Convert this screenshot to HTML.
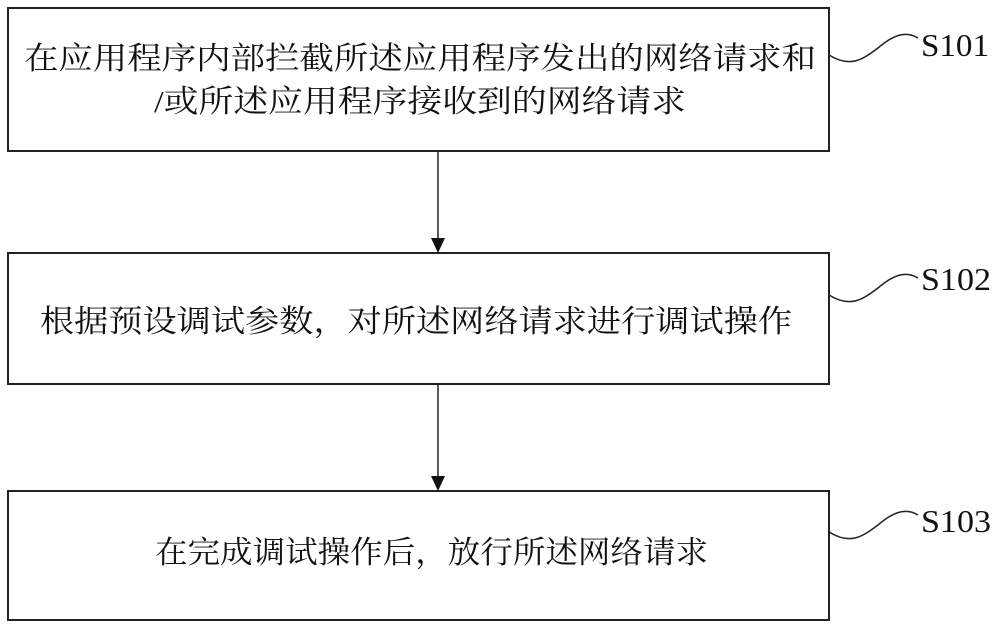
<!DOCTYPE html>
<html><head><style>
body{margin:0;background:#fff;}
svg text{font-family:"Liberation Serif","Noto Serif CJK SC","Noto Sans CJK SC",serif;fill:#111;}
</style></head><body>
<svg width="1000" height="629" viewBox="0 0 1000 629" xmlns="http://www.w3.org/2000/svg">
<g fill="none" stroke="#222" stroke-width="2">
<rect x="8" y="8" width="821" height="143"/>
<rect x="8" y="253" width="821" height="131"/>
<rect x="8" y="491" width="821" height="129"/>
</g>
<g stroke="#222" stroke-width="1.5" fill="none">
<line x1="438" y1="151" x2="438" y2="240"/>
<line x1="438" y1="384" x2="438" y2="478"/>
<path d="M829,55 C850,68 862,60 878,48 C892,36 905,30 918,38"/>
<path d="M829,295 C850,308 862,300 878,288 C892,276 905,270 918,278"/>
<path d="M829,532 C850,545 862,537 878,525 C892,513 905,507 918,515"/>
</g>
<g fill="#111">
<polygon points="431,238 445,238 438,253"/>
<polygon points="431,476 445,476 438,491"/>
</g>
<g font-size="31">
<text x="24" y="69" textLength="792" lengthAdjust="spacingAndGlyphs">在应用程序内部拦截所述应用程序发出的网络请求和</text>
<text x="154" y="112" textLength="532" lengthAdjust="spacingAndGlyphs">/或所述应用程序接收到的网络请求</text>
<text x="40" y="332" textLength="752" lengthAdjust="spacingAndGlyphs">根据预设调试参数，对所述网络请求进行调试操作</text>
<text x="155" y="563" textLength="553" lengthAdjust="spacingAndGlyphs">在完成调试操作后，放行所述网络请求</text>
<text x="921" y="56" font-size="32" textLength="68" lengthAdjust="spacingAndGlyphs">S101</text>
<text x="921" y="290" font-size="32" textLength="70" lengthAdjust="spacingAndGlyphs">S102</text>
<text x="921" y="532" font-size="32" textLength="70" lengthAdjust="spacingAndGlyphs">S103</text>
</g>
</svg>
</body></html>
